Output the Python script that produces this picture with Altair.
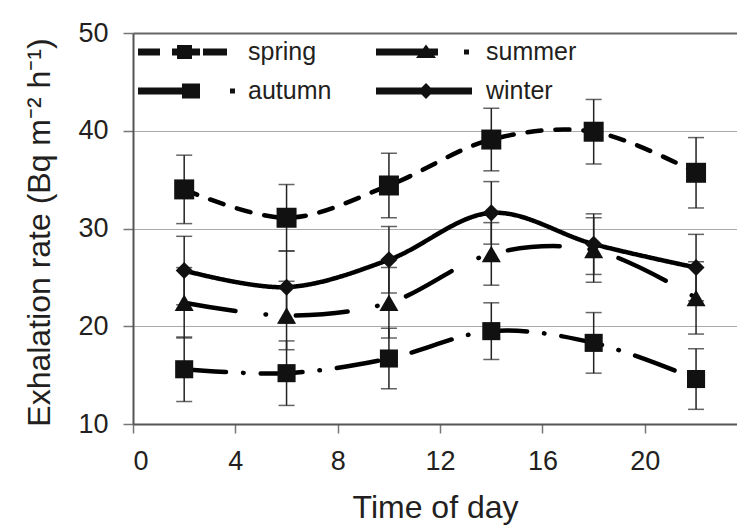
import altair as alt
import pandas as pd

hours = [2, 6, 10, 14, 18, 22]
seasons = ["spring", "summer", "autumn", "winter"]
legend_order = ["spring", "autumn", "summer", "winter"]

spring = [34.0, 31.1, 34.4, 39.1, 39.9, 35.7]
summer = [22.4, 21.1, 22.4, 27.4, 27.8, 22.9]
autumn = [15.6, 15.2, 16.7, 19.5, 18.3, 14.6]
winter = [25.7, 24.0, 26.8, 31.6, 28.4, 26.0]

spring_err = [3.5, 3.4, 3.3, 3.2, 3.3, 3.6]
summer_err = [3.6, 3.5, 3.6, 3.2, 3.3, 3.7]
autumn_err = [3.3, 3.3, 3.1, 2.9, 3.1, 3.1]
winter_err = [3.5, 3.7, 3.4, 3.2, 3.1, 3.4]

x_ticks = [0, 4, 8, 12, 16, 20]
y_ticks = [10, 20, 30, 40, 50]

rows = []
for s, vals, errs in zip(seasons, [spring, summer, autumn, winter],
                         [spring_err, summer_err, autumn_err, winter_err]):
    for h, v, e in zip(hours, vals, errs):
        rows.append({"season": s, "hour": h, "value": v, "lo": v - e, "hi": v + e})
df = pd.DataFrame(rows)

FONT = "Liberation Sans"
TXT = "#231f20"

def rect(x0, x1, h):
    return f"M{x0},{-h}H{x1}V{h}H{x0}Z"

paths = {
    "spring": rect(-1, 0.222, 0.19) + rect(0.889, 2.444, 0.19) + rect(1.167, 2.0, 0.39) + rect(2.611, 3.944, 0.19),
    "summer": rect(-1, 2.444, 0.19) + "M1.222,0.33L1.778,-0.42L2.333,0.33Z" + rect(3.889, 4.167, 0.14),
    "autumn": rect(-1, 2.444, 0.19) + rect(1.444, 2.444, 0.42) + rect(4.111, 4.389, 0.14),
    "winter": rect(-1, 4.333, 0.19) + "M1.334,0L1.778,-0.444L2.222,0L1.778,0.444Z",
}

xscale = alt.Scale(domain=[0, 23.6], nice=False, zero=False)
yscale = alt.Scale(domain=[10, 50], nice=False, zero=False)

base = alt.Chart(df)

x_axis = alt.Axis(
    values=x_ticks, grid=False, title="Time of day",
    domainColor="#555", domainWidth=2, tickColor="#777", tickWidth=1.5, tickSize=9,
    labelFont=FONT, labelFontSize=27, labelColor=TXT, labelPadding=15,
    titleFont=FONT, titleFontSize=32, titleFontWeight="normal", titleColor=TXT,
    titleY=93, titleBaseline="alphabetic",
)
y_axis = alt.Axis(
    values=y_ticks, grid=True,
    gridColor={"condition": {"test": "datum.value === 50", "value": "#666"}, "value": "#aaa"},
    gridWidth={"condition": {"test": "datum.value === 50", "value": 2}, "value": 1},
    title="Exhalation rate (Bq m⁻² h⁻¹)",
    domainColor="#555", domainWidth=2, tickColor="#777", tickWidth=1.5, tickSize=10,
    labelFont=FONT, labelFontSize=27, labelColor=TXT, labelPadding=15,
    titleFont=FONT, titleFontSize=32, titleFontWeight="normal", titleColor=TXT,
    titleX=-84, titleY=199, titleBaseline="alphabetic",
)

X = alt.X("hour:Q", scale=xscale, axis=x_axis)

err_rule = base.mark_rule(color="#222", strokeWidth=1.5).encode(
    x=X,
    y=alt.Y("lo:Q", scale=yscale, axis=y_axis),
    y2="hi:Q",
)
tick_lo = base.mark_tick(orient="horizontal", size=16, thickness=1.5, color="#222").encode(
    x=X, y=alt.Y("lo:Q", scale=yscale, axis=y_axis),
)
tick_hi = base.mark_tick(orient="horizontal", size=16, thickness=1.5, color="#222").encode(
    x=X, y=alt.Y("hi:Q", scale=yscale, axis=y_axis),
)

lines = base.mark_line(interpolate="catmull-rom", color="black", strokeWidth=4.5,
                       strokeCap="round").encode(
    x=X,
    y=alt.Y("value:Q", scale=yscale, axis=y_axis),
    strokeDash=alt.StrokeDash("season:N", scale=alt.Scale(
        domain=seasons, range=[[14, 14], [52, 30, 0.5, 30], [42, 17, 0.5, 17], [1, 0]]),
        legend=None),
    detail="season:N",
)

markers = base.mark_point(filled=True, color="#111", opacity=1).encode(
    x=X,
    y=alt.Y("value:Q", scale=yscale, axis=y_axis),
    shape=alt.Shape("season:N", scale=alt.Scale(
        domain=seasons, range=["square", "triangle-up", "square", "diamond"]), legend=None),
    size=alt.Size("season:O", scale=alt.Scale(domain=seasons, range=[400, 290, 400, 210]),
                  legend=None),
)

legend_layer = base.mark_point(filled=True, color="#111", opacity=0, size=1296).encode(
    x=X,
    y=alt.Y("value:Q", scale=yscale, axis=y_axis),
    shape=alt.Shape("season:N", scale=alt.Scale(
        domain=legend_order, range=[paths[s] for s in legend_order]),
                    legend=alt.Legend(
                        title=None, orient="none", legendX=5, legendY=1, columns=2,
                        columnPadding=44, rowPadding=8, symbolSize=1296, labelOffset=74,
                        labelFont=FONT, labelFontSize=25, labelColor=TXT,
                        symbolFillColor="#111", symbolStrokeWidth=0, padding=0,
                        symbolOpacity=1)),
)

chart = alt.layer(err_rule, tick_lo, tick_hi, lines, markers, legend_layer).resolve_scale(
    shape="independent"
).properties(
    width=604, height=391,
    padding={"left": 133, "top": 33, "right": 0, "bottom": 105},
    autosize=alt.AutoSizeParams(type="none"),
    background="white",
).configure_view(stroke=None)

chart.save("out.html", embed_options={"renderer": "svg", "actions": False})
